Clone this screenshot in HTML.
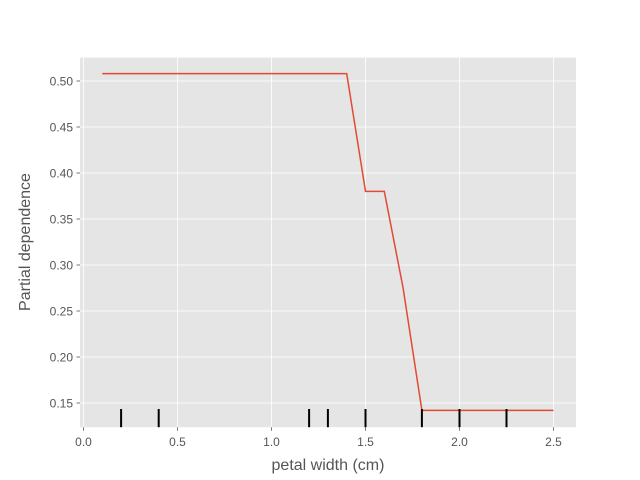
<!DOCTYPE html>
<html><head><meta charset="utf-8"><style>
html,body{margin:0;padding:0;background:#fff;width:640px;height:480px;overflow:hidden}
text{font-family:"Liberation Sans","DejaVu Sans",sans-serif}
</style></head><body>
<svg id="chart" width="640" height="480" xmlns="http://www.w3.org/2000/svg">
<rect x="80" y="57.6" width="496" height="369.6" fill="#E5E5E5"/>
<g id="grid"></g><g id="marks"></g><g id="axes"></g>
<text x="328" y="470" text-anchor="middle" font-size="16" fill="#555">petal width (cm)</text>
<text transform="translate(30,242) rotate(-90)" text-anchor="middle" font-size="16" fill="#555">Partial dependence</text>
</svg>
<script>
const xs = [0.1, 1.4, 1.5, 1.6, 1.7, 1.8, 2.5];
const ys = [0.508, 0.508, 0.38, 0.38, 0.275, 0.142, 0.142];
const deciles = [0.2, 0.4, 1.2, 1.3, 1.5, 1.8, 2.0, 2.25];
const xTicks = [0.0, 0.5, 1.0, 1.5, 2.0, 2.5];
const xTickLabels = ["0.0","0.5","1.0","1.5","2.0","2.5"];
const yTicks = [0.15,0.20,0.25,0.30,0.35,0.40,0.45,0.50];
const yTickLabels = ["0.15","0.20","0.25","0.30","0.35","0.40","0.45","0.50"];
const NS="http://www.w3.org/2000/svg";
const X=v=>83.5+v*188;
const Y=v=>81+(0.5-v)/0.05*46;
function mk(tag,attrs,parent){const e=document.createElementNS(NS,tag);for(const k in attrs)e.setAttribute(k,attrs[k]);document.getElementById(parent).appendChild(e);return e;}
xTicks.forEach((t,i)=>{
 const g=mk('line',{x1:X(t),x2:X(t),y1:57.6,y2:427.2,stroke:'#fff','stroke-width':0.8},'grid');
 
 
 const tk=mk('line',{x1:X(t),x2:X(t),y1:427.2,y2:430.7,stroke:'#555','stroke-width':0.8},'axes');
 
 
 const tx=mk('text',{x:X(t),y:446,'text-anchor':'middle','font-size':12,fill:'#555'},'axes');
 tx.textContent=xTickLabels[i];
 
 
});
yTicks.forEach((t,i)=>{
 const g=mk('line',{x1:80,x2:576,y1:Y(t),y2:Y(t),stroke:'#fff','stroke-width':0.8},'grid');
 
 
 const tk=mk('line',{x1:76.5,x2:80,y1:Y(t),y2:Y(t),stroke:'#555','stroke-width':0.8},'axes');
 
 
 const tx=mk('text',{x:73,y:Y(t)+4.5,'text-anchor':'end','font-size':12,fill:'#555'},'axes');
 tx.textContent=yTickLabels[i];
 
 
});
const pts=xs.map((x,i)=>X(x)+','+Y(ys[i])).join(' ');
const pl=mk('polyline',{points:pts,fill:'none',stroke:'#E24A33','stroke-width':1.5},'marks');


deciles.forEach(d=>{
 const l=mk('line',{x1:X(d),x2:X(d),y1:409,y2:427.2,stroke:'#000','stroke-width':2},'marks');
 
 
});
</script>
</body></html>
